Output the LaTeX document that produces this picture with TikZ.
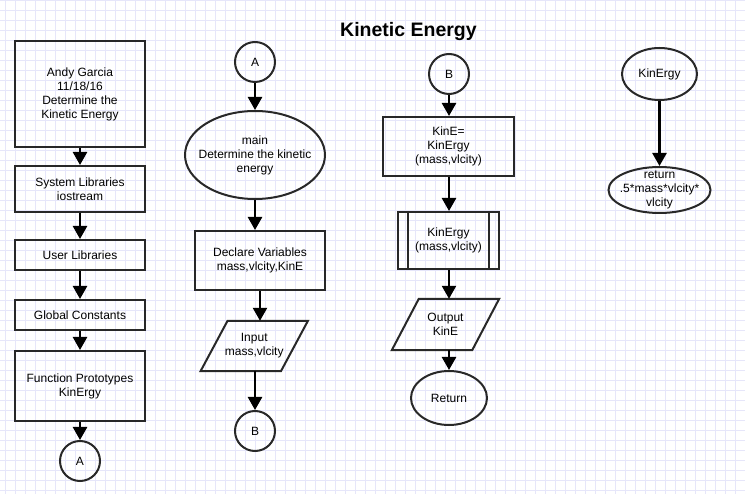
\documentclass[tikz,border=0pt]{standalone}
\usepackage{fontspec}
\setmainfont{Liberation Sans}
\usetikzlibrary{shapes.geometric,arrows.meta,calc}
\definecolor{gridc}{RGB}{230,230,250}
\definecolor{edgec}{RGB}{40,40,40}
\tikzset{
  txt/.style={align=center,font=\fontsize{12}{14}\selectfont,inner sep=0pt,text=black},
  procbox/.style={txt,draw=edgec,line width=2pt,rectangle},
  term/.style={draw=edgec,line width=2pt,ellipse,inner sep=0pt},
  conn/.style={txt,draw=edgec,line width=2pt,circle,minimum size=40pt},
  iobox/.style={txt,rectangle,minimum width=80pt},
  iobord/.style={draw=edgec,line width=2pt,line join=miter},
  flow/.style={draw=black,line width=2.5pt,-{Triangle[length=13pt,width=14pt]}},
  gridline/.style={draw=gridc,line width=0.9pt}
}
\begin{document}
\begin{tikzpicture}[x=1pt,y=-1pt]
\useasboundingbox (0,0) rectangle (745,494);
\fill[white] (0,0) rectangle (745,494);
\foreach \gx in {5,15,...,745} \draw[gridline] (\gx,0) -- (\gx,494);
\foreach \gy in {0,10,...,490} \draw[gridline] (0,\gy) -- (745,\gy);

\node[font=\bfseries\fontsize{19.5}{22}\selectfont,anchor=base] (title) at (408.5,37) {Kinetic Energy};

% left column
\node[procbox,minimum width=130pt,minimum height=106pt] (b1) at (80,94) {Andy Garcia\\11/18/16\\Determine the\\Kinetic Energy};
\node[procbox,minimum width=130pt,minimum height=46pt] (b2) at (80,189) {System Libraries\\iostream};
\node[procbox,minimum width=130pt,minimum height=30pt] (b3) at (80,255) {User Libraries};
\node[procbox,minimum width=130pt,minimum height=30pt] (b4) at (80,315) {Global Constants};
\node[procbox,minimum width=130pt,minimum height=70pt] (b5) at (80,386) {Function Prototypes\\KinErgy};
\node[conn] (cA1) at (80,461) {A};
\draw[flow] (b1) -- (b2);
\draw[flow] (b2) -- (b3);
\draw[flow] (b3) -- (b4);
\draw[flow] (b4) -- (b5);
\draw[flow] (b5) -- (cA1);

% second column
\node[conn] (cA2) at (255,62) {A};
\node[term,minimum width=140pt,minimum height=88pt,label={[txt]center:main\\Determine the kinetic\\energy}] (main) at (255,155) {};
\node[procbox,minimum width=130pt,minimum height=59pt] (decl) at (260,260.5) {Declare Variables\\mass,vlcity,KinE};
\node[iobox,minimum height=50pt] (inp) at (254.25,346) {Input\\mass,vlcity};
\draw[iobord] ($(inp.north west)+(13.5,0)$) -- ($(inp.north east)+(13.5,0)$) -- ($(inp.south east)+(-13.5,0)$) -- ($(inp.south west)+(-13.5,0)$) -- cycle;
\node[conn] (cB2) at (255,431) {B};
\draw[flow] (cA2) -- (main);
\draw[flow] (main.south) -- (main.south |- decl.north);
\draw[flow] (decl.south) -- (decl.south |- inp.north);
\draw[flow] (cB2.north |- inp.south) -- (cB2.north);

% third column
\node[conn] (cB3) at (449,74) {B};
\node[procbox,minimum width=131pt,minimum height=59pt] (kine) at (448.5,146.5) {KinE=\\KinErgy\\(mass,vlcity)};
\node[procbox,minimum width=101pt,minimum height=57pt] (sub) at (448.5,240.5) {KinErgy\\(mass,vlcity)};
\draw[edgec,line width=2pt] ($(sub.north west)+(11,0)$) -- ($(sub.south west)+(11,0)$);
\draw[edgec,line width=2pt] ($(sub.north east)+(-11,0)$) -- ($(sub.south east)+(-11,0)$);
\node[iobox,minimum height=51pt] (outp) at (445.5,324.5) {Output\\KinE};
\draw[iobord] ($(outp.north west)+(13.5,0)$) -- ($(outp.north east)+(13.5,0)$) -- ($(outp.south east)+(-13.5,0)$) -- ($(outp.south west)+(-13.5,0)$) -- cycle;
\node[term,minimum width=76pt,minimum height=54pt,label={[txt]center:Return}] (ret) at (449,398) {};
\draw[flow] (cB3) -- (cB3 |- kine.north);
\draw[flow] (cB3 |- kine.south) -- (cB3 |- sub.north);
\draw[flow] (cB3 |- sub.south) -- (cB3 |- outp.north);
\draw[flow] (ret.north |- outp.south) -- (ret.north);

% fourth column
\node[term,minimum width=75pt,minimum height=52pt,label={[txt]center:KinErgy}] (kfun) at (659.5,74) {};
\node[term,minimum width=102pt,minimum height=46pt,label={[txt]center:return\\.5*mass*vlcity*\\vlcity}] (kret) at (659.5,190) {};
\draw[flow] (kfun) -- (kret);
\end{tikzpicture}
\end{document}
